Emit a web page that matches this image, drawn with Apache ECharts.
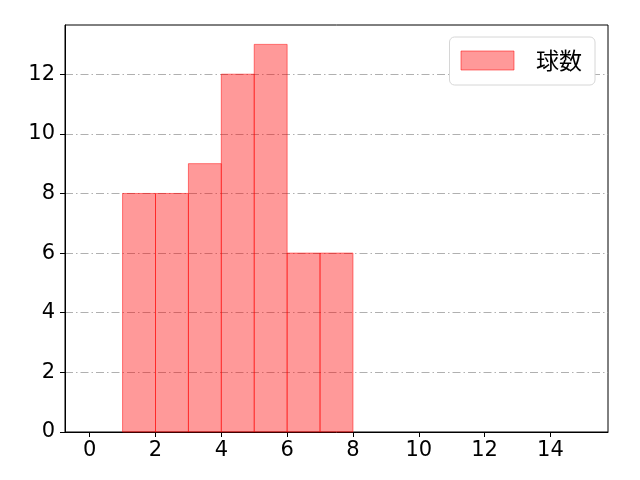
<!DOCTYPE html>
<html><head><meta charset="utf-8">
<script src="https://cdn.jsdelivr.net/npm/echarts@6/dist/echarts.min.js"></script>
<style>html,body{margin:0;padding:0;background:#fff}#c{width:640px;height:480px}</style>
</head><body><div id="c"></div>
<script>
var binStarts = [1, 2, 3, 4, 5, 6, 7];
var binEnds   = [2, 3, 4, 5, 6, 7, 8];
var counts    = [8, 8, 9, 12, 13, 6, 6];
var xTicks = [0, 2, 4, 6, 8, 10, 12, 14];
var yTicks = [0, 2, 4, 6, 8, 10, 12];
var seriesName = '球数';

var data = binStarts.map(function (s, i) { return [s, binEnds[i], counts[i]]; });
var FONT = '"DejaVu Sans", "Noto Sans CJK JP", sans-serif';
var chart = echarts.init(document.getElementById('c'));
chart.setOption({
  animation: false,
  grid: { left: 65, right: 32, top: 25, bottom: 48, show: true, borderColor: '#000', borderWidth: 1, backgroundColor: 'transparent' },
  legend: {
    right: 45, top: 37, orient: 'vertical',
    backgroundColor: '#fff', borderColor: '#d6d6d6', borderWidth: 1, borderRadius: 5,
    padding: [12, 13, 13, 11],
    itemWidth: 53, itemHeight: 19,
    textStyle: { fontFamily: '"Noto Sans CJK JP", sans-serif', fontSize: 23, color: '#000', padding: [0, 0, 0, 17] },
    data: [{ name: seriesName, icon: 'rect', itemStyle: { color: 'rgba(255,0,0,0.4)', borderColor: 'rgba(255,0,0,0.5)', borderWidth: 1 } }]
  },
  xAxis: {
    type: 'value', min: -0.75, max: 15.75,
    axisLine: { show: true, onZero: false, lineStyle: { color: '#000', width: 1 } },
    axisTick: { show: true, length: 5, lineStyle: { color: '#000' }, customValues: xTicks },
    axisLabel: { fontFamily: FONT, fontSize: 21, color: '#000', margin: 8, customValues: xTicks },
    splitLine: { show: false }
  },
  yAxis: {
    type: 'value', min: 0, max: 13.65,
    axisLine: { show: true, onZero: false, lineStyle: { color: '#000', width: 1 } },
    axisTick: { show: true, length: 5, lineStyle: { color: '#000' }, customValues: yTicks },
    axisLabel: { fontFamily: FONT, fontSize: 21, color: '#000', margin: 10, customValues: yTicks },
    splitLine: { show: true, lineStyle: { color: '#b0b0b0', width: 1, type: [8, 3, 1.5, 3] } }
  },
  series: [{
    name: seriesName, type: 'custom',
    itemStyle: { color: 'rgba(255,0,0,0.4)' },
    renderItem: function (params, api) {
      var p0 = api.coord([api.value(0), api.value(2)]);
      var p1 = api.coord([api.value(1), 0]);
      return {
        type: 'rect',
        shape: { x: p0[0], y: p0[1], width: p1[0] - p0[0], height: p1[1] - p0[1] },
        style: { fill: 'rgba(255,0,0,0.4)', stroke: 'rgba(255,0,0,0.5)', lineWidth: 1 }
      };
    },
    encode: { x: [0, 1], y: 2 },
    data: data
  }]
});
</script></body></html>
